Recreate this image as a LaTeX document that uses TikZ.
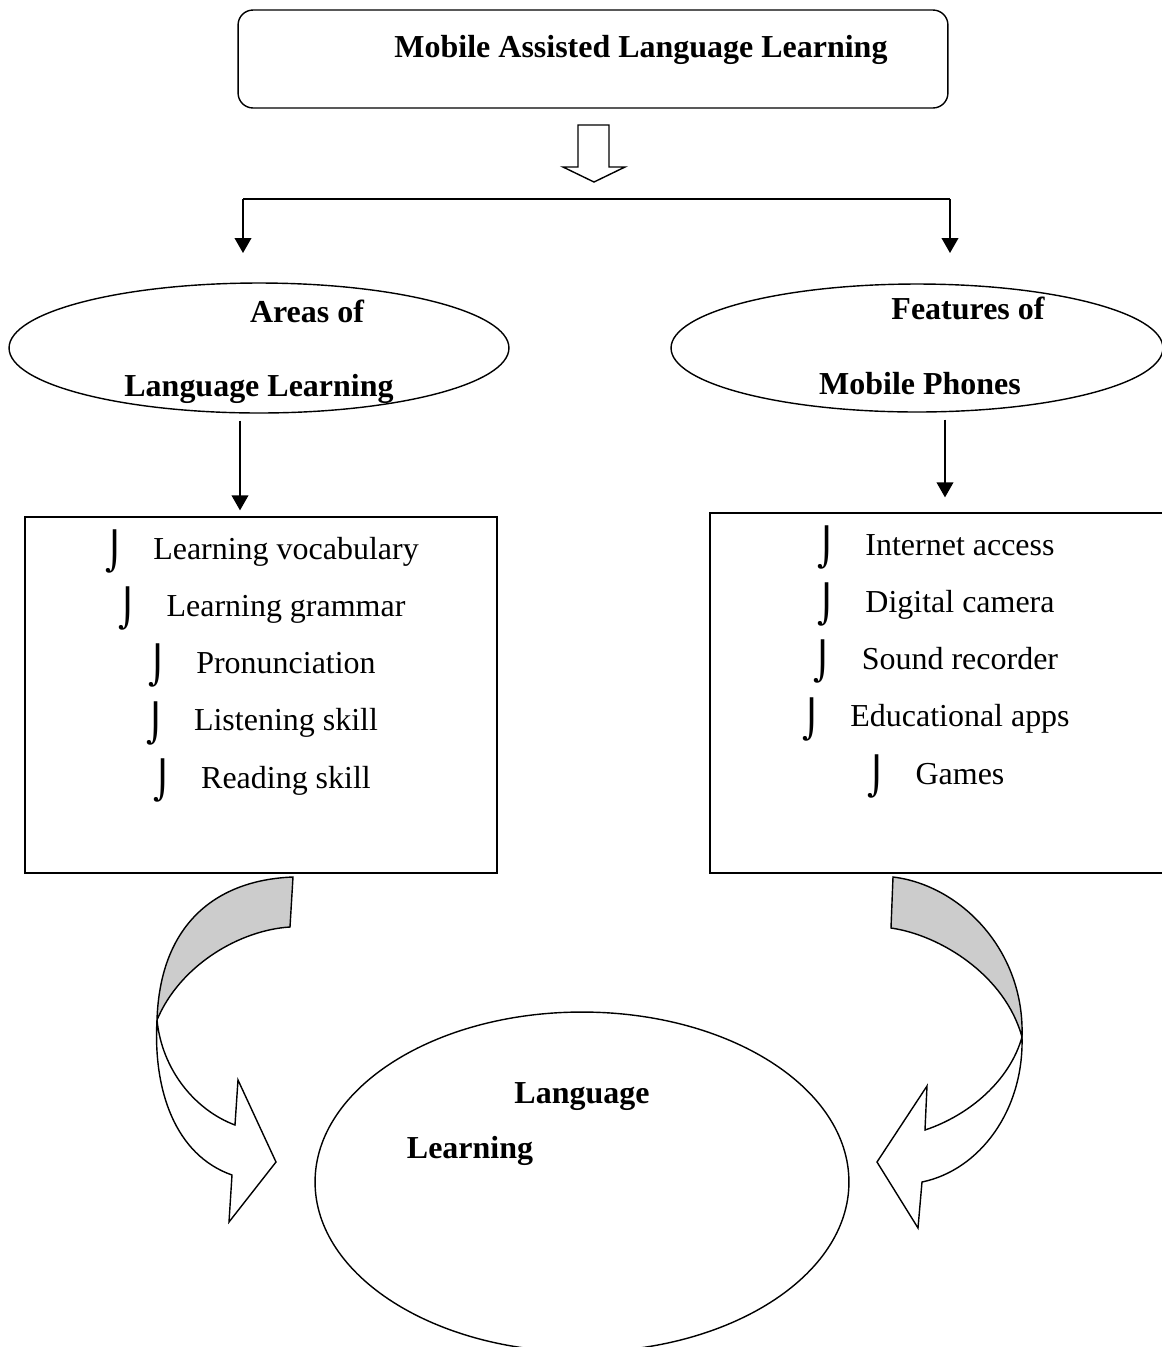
\documentclass[tikz,border=0pt]{standalone}
\usepackage{fontspec}
\setmainfont{Liberation Serif}
\newfontfamily\bulfont{DejaVu Sans}
\usetikzlibrary{arrows.meta,shapes.geometric}

\newcommand{\itm}[1]{\raisebox{-3pt}{\bulfont\fontsize{21}{21}\selectfont ⌡}\hspace{0.9em}#1}

\begin{document}
\begin{tikzpicture}[x=0.02cm, y=-0.02cm, line width=0.8pt,
  every node/.style={font=\fontsize{18.2}{22}\selectfont},
  txt/.style={anchor=base, inner sep=0pt},
  hd/.style={txt, font=\fontsize{18.2}{22}\selectfont\bfseries},
  conn/.style={-{Triangle[length=8.5pt,width=9.5pt]}},
  blob/.style={draw, ellipse, inner sep=0pt}]
\clip (0,0) rectangle (1162,1347);
% title box and the hollow arrow under it
\node[draw, rounded corners=0.3cm, minimum width=14.2cm, minimum height=1.96cm] (mall) at (593,59) {};
\node[hd] (malltxt) at (641,57) {Mobile Assisted Language Learning};
\draw (578,125) -- (609,125) -- (609,167) -- (625,167) -- (594,182) -- (563,167) -- (578,167) -- cycle;
% fork
\coordinate (forkL) at (243,199);
\coordinate (forkR) at (950,199);
\coordinate (colL) at (240,0);
\coordinate (colR) at (945,0);
\draw (forkL) -- (forkR);
\draw[conn] (forkL) -- ++(0,54);
\draw[conn] (forkR) -- ++(0,54);
% the two ellipses
\node[blob, minimum width=10cm, minimum height=2.6cm] (areas) at (259,348) {};
\node[hd] at (307,322) {Areas of};
\node[hd] at (259,396) {Language Learning};
\node[blob, minimum width=9.84cm, minimum height=2.56cm] (feat) at (917,348) {};
\node[hd] at (968,319) {Features of};
\node[hd] at (920,394) {Mobile Phones};
% lists
\node[draw, minimum width=9.44cm, minimum height=7.12cm] (listL) at (261,695) {};
\node[draw, minimum width=9.4cm, minimum height=7.2cm] (listR) at (945,693) {};
\draw[conn, shorten <=0.14cm, shorten >=0.12cm] (areas.south -| colL) -- (listL.north -| colL);
\draw[conn, shorten <=0.14cm, shorten >=0.3cm] (feat.south -| colR) -- (listR.north -| colR);
\foreach \t [count=\i] in {Learning vocabulary, Learning grammar, Pronunciation, Listening skill, Reading skill}
  \node[txt] (l\i) at (262,502+57.2*\i) {\itm{\t}};
\foreach \t [count=\i] in {Internet access, Digital camera, Sound recorder, Educational apps, Games}
  \node[txt] (r\i) at (936,498+57.2*\i) {\itm{\t}};
% result
\node[blob, minimum width=10.68cm, minimum height=6.8cm] (lang) at (582,1182) {};
\node[hd] at (582,1103) {Language};
\node[hd] at (470,1158) {Learning};
% curved arrows
\filldraw[fill=black!20] (293,877) .. controls (215,880) and (160,925) .. (157,1020) .. controls (180,965) and (240,930) .. (290,927) -- cycle;
\draw[fill=white] (157,1020) .. controls (153,1090) and (175,1155) .. (232,1175) -- (229,1222) -- (276,1162) -- (238,1080) -- (235,1125) .. controls (195,1110) and (162,1070) .. (157,1020) -- cycle;
\filldraw[fill=black!20] (893,877) .. controls (960,885) and (1025,950) .. (1022,1037) .. controls (1005,975) and (940,935) .. (891,928) -- cycle;
\draw[fill=white] (1022,1037) .. controls (1024,1110) and (980,1170) .. (922,1182) -- (918,1228) -- (877,1162) -- (927,1086) -- (925,1130) .. controls (970,1115) and (1010,1080) .. (1022,1037) -- cycle;
\end{tikzpicture}
\end{document}
